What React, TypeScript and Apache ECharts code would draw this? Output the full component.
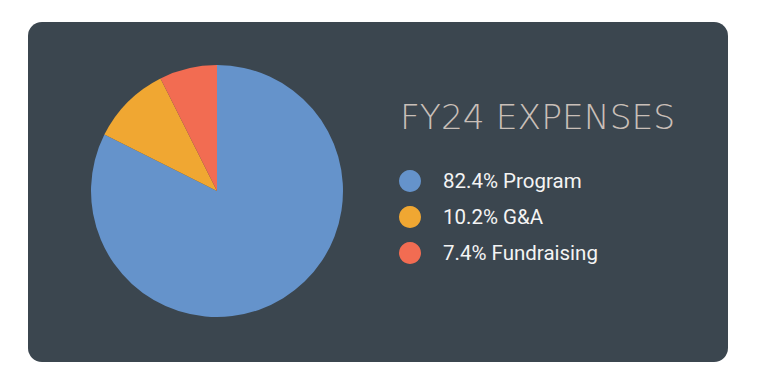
import React, { useEffect, useRef } from "react";
import * as echarts from "echarts";

const categories = ["Program", "G&A", "Fundraising"];
const values = [82.4, 10.2, 7.4];
const colors = ["#6593cb", "#f0a732", "#f26c52"];
const titleText = "FY24 EXPENSES";

export default function App() {
  const ref = useRef<HTMLDivElement>(null);
  useEffect(() => {
    if (!ref.current) return;
    const chart = echarts.init(ref.current, null, { renderer: "svg" });
    const data = categories.map((c, i) => ({ name: c, value: values[i], itemStyle: { color: colors[i] } }));
    chart.setOption({
      animation: false,
      backgroundColor: "#ffffff",
      graphic: [
        {
          type: "rect",
          z: -10,
          shape: { x: 28, y: 22, width: 700, height: 340, r: 14 },
          style: { fill: "#3b464f" },
        },
        {
          type: "text",
          x: 400,
          y: 117,
          style: {
            text: titleText,
            fill: "#c9bfb8",
            fontSize: 34.5,
            fontWeight: 200,
            fontFamily: "DejaVu Sans",
            verticalAlign: "middle",
            align: "left",
          },
        },
      ],
      legend: {
        orient: "vertical",
        left: 399,
        top: 170,
        padding: 0,
        icon: "circle",
        itemWidth: 22,
        itemHeight: 22,
        itemGap: 14,
        selectedMode: false,
        data: categories,
        formatter: (name: string) => {
          const i = categories.indexOf(name);
          return `${values[i]}% ${name}`;
        },
        textStyle: {
          color: "#f4f4f4",
          fontSize: 20.5,
          fontFamily: "Roboto",
          padding: [0, 0, 0, 17],
        },
      },
      series: [
        {
          type: "pie",
          center: [217, 191],
          radius: 126,
          startAngle: 90,
          clockwise: true,
          label: { show: false },
          labelLine: { show: false },
          emphasis: { disabled: true },
          itemStyle: { borderWidth: 0 },
          data,
        },
      ],
    });
    return () => chart.dispose();
  }, []);
  return (
    <div
      ref={ref}
      style={{ position: "absolute", left: 0, top: 0, width: 757, height: 385 }}
    />
  );
}
